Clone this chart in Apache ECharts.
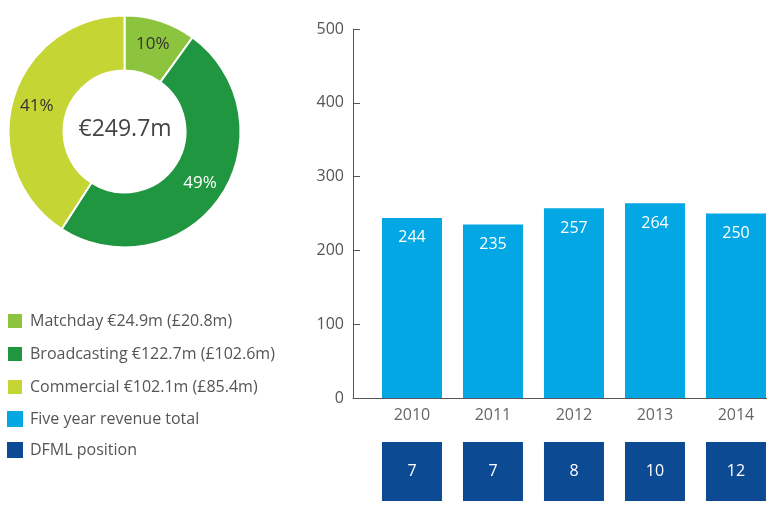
<!DOCTYPE html>
<html>
<head>
<meta charset="utf-8">
<script src="https://cdn.jsdelivr.net/npm/echarts@6/dist/echarts.min.js"></script>
<style>
  html,body{margin:0;padding:0;background:#fff;}
  #chart{width:767px;height:511px;}
</style>
</head>
<body>
<div id="chart"></div>
<script>
// revenue split (pie)
var streams = ['Matchday', 'Broadcasting', 'Commercial'];
var streamEur = [24.9, 122.7, 102.1];
var streamGbp = [20.8, 102.6, 85.4];
var streamColors = ['#8cc43e', '#1f963f', '#c5d533'];
var streamLabelColors = ['#333', '#fff', '#333'];
var totalLabel = '€249.7m';

// five year revenue + DFML position
var years = ['2010', '2011', '2012', '2013', '2014'];
var revenue = [244, 235, 257, 264, 250];
var dfml = [7, 7, 8, 10, 12];
var yTicks = [0, 100, 200, 300, 400, 500];

var font = '"Open Sans", "Noto Sans", sans-serif';
var chart = echarts.init(document.getElementById('chart'));

var extra = {};
streams.forEach(function (s, i) {
  extra[s] = ' €' + streamEur[i] + 'm (£' + streamGbp[i] + 'm)';
});

var xRange = { min: -0.728, max: 4.383 };

chart.setOption({
  animation: false,
  textStyle: { fontFamily: font },
  graphic: [{
    type: 'text',
    left: 124.5 - 46,
    top: 118,
    style: { text: totalLabel, fontSize: 23, fill: '#444', fontFamily: font }
  }],
  legend: {
    orient: 'vertical',
    left: 6,
    top: 312,
    padding: 0,
    icon: 'rect',
    itemWidth: 16,
    itemHeight: 16,
    itemGap: 15,
    selectedMode: false,
    textStyle: { color: '#555', fontSize: 16, fontFamily: font, padding: [0, 0, 0, 2] },
    data: streams.concat(['Five year revenue total', 'DFML position']),
    formatter: function (name) { return name + (extra[name] || ''); }
  },
  grid: [
    { left: 353, right: 0, top: 29, bottom: 113 },
    { left: 353, right: 0, top: 442, bottom: 10 }
  ],
  xAxis: [{
    type: 'value',
    gridIndex: 0,
    min: xRange.min,
    max: xRange.max,
    splitLine: { show: false },
    axisLine: { show: true, onZero: false, lineStyle: { color: '#555' } },
    axisTick: { show: false },
    axisLabel: {
      customValues: [0, 1, 2, 3, 4],
      formatter: function (v) { return years[Math.round(v)]; },
      color: '#666', fontSize: 16, margin: 9
    }
  }, {
    type: 'value',
    gridIndex: 1,
    min: xRange.min,
    max: xRange.max,
    show: false
  }],
  yAxis: [{
    type: 'value',
    gridIndex: 0,
    min: yTicks[0],
    max: yTicks[yTicks.length - 1],
    interval: 100,
    splitLine: { show: false },
    axisLine: { show: true, onZero: false, lineStyle: { color: '#555' } },
    axisTick: { show: true, inside: true, length: 7, lineStyle: { color: '#555' } },
    axisLabel: { color: '#555', fontSize: 16, margin: 9 }
  }, {
    type: 'value',
    gridIndex: 1,
    min: 0,
    max: 1,
    show: false
  }],
  series: [{
    type: 'pie',
    center: [124.5, 131.5],
    radius: [61, 116],
    startAngle: 90,
    percentPrecision: 0,
    silent: true,
    itemStyle: { borderColor: '#fff', borderWidth: 2 },
    label: { position: 'inside', formatter: '{d}%', fontSize: 17, fontFamily: font },
    labelLine: { show: false },
    data: streams.map(function (s, i) {
      return {
        name: s,
        value: streamEur[i],
        itemStyle: { color: streamColors[i] },
        label: { color: streamLabelColors[i] }
      };
    })
  }, {
    name: 'Five year revenue total',
    type: 'bar',
    xAxisIndex: 0,
    yAxisIndex: 0,
    barWidth: 60,
    silent: true,
    itemStyle: { color: '#03a7e3' },
    label: {
      show: true, position: 'insideTop', distance: 12,
      color: '#fff', fontSize: 16,
      formatter: function (p) { return p.value[1]; }
    },
    data: revenue.map(function (v, i) { return [i, v]; })
  }, {
    name: 'DFML position',
    type: 'bar',
    xAxisIndex: 1,
    yAxisIndex: 1,
    barWidth: 60,
    silent: true,
    itemStyle: { color: '#0c4a93' },
    label: {
      show: true, position: 'inside',
      color: '#fff', fontSize: 16,
      formatter: function (p) { return dfml[p.dataIndex]; }
    },
    data: dfml.map(function (p, i) { return [i, 1]; })
  }]
});
</script>
</body>
</html>
